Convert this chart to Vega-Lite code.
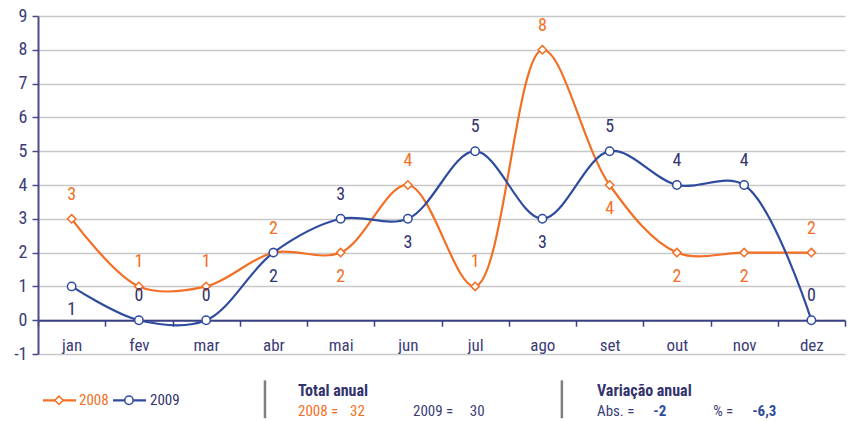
{
  "$schema": "https://vega.github.io/schema/vega-lite/v6.json",
  "autosize": {"type": "none"},
  "width": 807,
  "height": 338,
  "padding": {"left": 38, "top": 16, "right": 5, "bottom": 67},
  "background": "white",
  "config": {
    "font": "Liberation Sans Narrow, Arial Narrow, Roboto Condensed, sans-serif",
    "view": {"stroke": null}
  },
  "datasets": {
    "series": [
      {"month": "jan", "series": "2008", "value": 3},
      {"month": "fev", "series": "2008", "value": 1},
      {"month": "mar", "series": "2008", "value": 1},
      {"month": "abr", "series": "2008", "value": 2},
      {"month": "mai", "series": "2008", "value": 2},
      {"month": "jun", "series": "2008", "value": 4},
      {"month": "jul", "series": "2008", "value": 1},
      {"month": "ago", "series": "2008", "value": 8},
      {"month": "set", "series": "2008", "value": 4},
      {"month": "out", "series": "2008", "value": 2},
      {"month": "nov", "series": "2008", "value": 2},
      {"month": "dez", "series": "2008", "value": 2},
      {"month": "jan", "series": "2009", "value": 1},
      {"month": "fev", "series": "2009", "value": 0},
      {"month": "mar", "series": "2009", "value": 0},
      {"month": "abr", "series": "2009", "value": 2},
      {"month": "mai", "series": "2009", "value": 3},
      {"month": "jun", "series": "2009", "value": 3},
      {"month": "jul", "series": "2009", "value": 5},
      {"month": "ago", "series": "2009", "value": 3},
      {"month": "set", "series": "2009", "value": 5},
      {"month": "out", "series": "2009", "value": 4},
      {"month": "nov", "series": "2009", "value": 4},
      {"month": "dez", "series": "2009", "value": 0}
    ],
    "legend_items": [
      {"series": "2008", "start": 0.074, "mid": 0.312, "end": 0.565, "labelcol": 0.61, "row": -2.37},
      {"series": "2009", "start": 1.115, "mid": 1.353, "end": 1.606, "labelcol": 1.665, "row": -2.37}
    ],
    "footer_title": [
      {"text": "Total anual", "col": 3.866, "row": -2.1},
      {"text": "Variação anual", "col": 8.312, "row": -2.1}
    ],
    "footer_orange": [
      {"text": "2008  =", "col": 3.866, "row": -2.7},
      {"text": "32", "col": 4.64, "row": -2.7}
    ],
    "footer_dark": [
      {"text": "2009  =", "col": 5.576, "row": -2.7},
      {"text": "30", "col": 6.42, "row": -2.7},
      {"text": "Abs.  =", "col": 8.312, "row": -2.7},
      {"text": "%  =", "col": 10.04, "row": -2.7}
    ],
    "footer_value": [
      {"text": "-2", "col": 9.15, "row": -2.7},
      {"text": "-6,3", "col": 10.62, "row": -2.7}
    ],
    "separators": [
      {"col": 3.375, "top": -1.78, "bottom": -2.9},
      {"col": 7.79, "top": -1.78, "bottom": -2.9}
    ]
  },
  "resolve": {"scale": {"x": "independent"}},
  "layer": [
    {
      "data": {"name": "series"},
      "layer": [
        {
          "mark": {"type": "line", "interpolate": "catmull-rom", "strokeWidth": 2.2},
          "encoding": {
            "x": {
              "field": "month", "type": "ordinal",
              "sort": ["jan","fev","mar","abr","mai","jun","jul","ago","set","out","nov","dez"],
              "scale": {"paddingInner": 0, "paddingOuter": 0},
              "axis": {
                "title": null, "labelAngle": 0, "offset": -33.8,
                "tickBand": "extent", "tickSize": 6, "tickWidth": 1.5,
                "tickColor": "#3b3f86", "domainColor": "#3b3f86", "domainWidth": 2,
                "labelColor": "#3c3c78", "labelFontSize": 17, "labelPadding": 11
              }
            },
            "y": {
              "field": "value", "type": "quantitative",
              "scale": {"domain": [-1, 9], "nice": false, "zero": false},
              "axis": {
                "title": null, "values": [-1,0,1,2,3,4,5,6,7,8,9], "tickCount": 20,
                "labelOverlap": false, "labelExpr": "'' + datum.value",
                "grid": true, "gridColor": "#c8c8c8", "gridWidth": 1.5,
                "domainColor": "#4a4a8a", "domainWidth": 2,
                "tickColor": "#4a4a8a", "tickSize": 6, "tickWidth": 1.5,
                "labelColor": "#3c3c78", "labelFontSize": 18, "labelPadding": 5
              }
            },
            "color": {
              "field": "series", "type": "nominal",
              "scale": {"domain": ["2008", "2009"], "range": ["#f26f25", "#2f4b9e"]},
              "legend": null
            }
          }
        },
        {
          "mark": {"type": "point", "filled": true, "fill": "white", "strokeWidth": 1.5, "size": 70, "opacity": 1},
          "encoding": {
            "x": {"field": "month", "type": "ordinal", "sort": ["jan","fev","mar","abr","mai","jun","jul","ago","set","out","nov","dez"]},
            "y": {"field": "value", "type": "quantitative"},
            "shape": {"field": "series", "type": "nominal", "scale": {"domain": ["2008", "2009"], "range": ["diamond", "circle"]}, "legend": null},
            "stroke": {"field": "series", "type": "nominal", "scale": {"domain": ["2008", "2009"], "range": ["#f26f25", "#2f4b9e"]}, "legend": null}
          }
        },
        {
          "transform": [{"filter": "(datum.series == '2008' && indexof(['mai','set','out','nov'], datum.month) < 0) || (datum.series == '2009' && indexof(['jan','abr','jun','ago'], datum.month) < 0)"}],
          "mark": {"type": "text", "dy": -24, "fontSize": 18, "baseline": "middle"},
          "encoding": {
            "x": {"field": "month", "type": "ordinal", "sort": ["jan","fev","mar","abr","mai","jun","jul","ago","set","out","nov","dez"]},
            "y": {"field": "value", "type": "quantitative"},
            "text": {"field": "value", "type": "quantitative"},
            "fill": {"field": "series", "type": "nominal", "scale": {"domain": ["2008", "2009"], "range": ["#f26f25", "#333370"]}, "legend": null}
          }
        },
        {
          "transform": [{"filter": "(datum.series == '2008' && indexof(['mai','set','out','nov'], datum.month) >= 0) || (datum.series == '2009' && indexof(['jan','abr','jun','ago'], datum.month) >= 0)"}],
          "mark": {"type": "text", "dy": 24, "fontSize": 18, "baseline": "middle"},
          "encoding": {
            "x": {"field": "month", "type": "ordinal", "sort": ["jan","fev","mar","abr","mai","jun","jul","ago","set","out","nov","dez"]},
            "y": {"field": "value", "type": "quantitative"},
            "text": {"field": "value", "type": "quantitative"},
            "fill": {"field": "series", "type": "nominal", "scale": {"domain": ["2008", "2009"], "range": ["#f26f25", "#333370"]}, "legend": null}
          }
        }
      ]
    },
    {
      "layer": [
        {
          "data": {"name": "legend_items"},
          "mark": {"type": "rule", "strokeWidth": 2.2},
          "encoding": {
            "x": {"field": "start", "type": "quantitative", "scale": {"domain": [0, 12]}, "axis": null},
            "x2": {"field": "end"},
            "y": {"field": "row", "type": "quantitative"},
            "stroke": {"field": "series", "type": "nominal", "legend": null}
          }
        },
        {
          "data": {"name": "legend_items"},
          "mark": {"type": "point", "filled": true, "fill": "white", "strokeWidth": 1.5, "size": 70, "opacity": 1},
          "encoding": {
            "x": {"field": "mid", "type": "quantitative", "scale": {"domain": [0, 12]}, "axis": null},
            "y": {"field": "row", "type": "quantitative"},
            "shape": {"field": "series", "type": "nominal", "legend": null},
            "stroke": {"field": "series", "type": "nominal", "legend": null}
          }
        },
        {
          "data": {"name": "legend_items"},
          "mark": {"type": "text", "align": "left", "baseline": "middle", "fontSize": 15},
          "encoding": {
            "x": {"field": "labelcol", "type": "quantitative", "scale": {"domain": [0, 12]}, "axis": null},
            "y": {"field": "row", "type": "quantitative"},
            "text": {"field": "series"},
            "fill": {"field": "series", "type": "nominal", "legend": null}
          }
        },
        {
          "data": {"name": "separators"},
          "mark": {"type": "rule", "color": "#7f7f7f", "strokeWidth": 2.5},
          "encoding": {
            "x": {"field": "col", "type": "quantitative", "scale": {"domain": [0, 12]}, "axis": null},
            "y": {"field": "top", "type": "quantitative"},
            "y2": {"field": "bottom"}
          }
        },
        {
          "data": {"name": "footer_title"},
          "mark": {"type": "text", "align": "left", "baseline": "middle", "fontSize": 16, "fontWeight": "bold", "color": "#33336e"},
          "encoding": {
            "x": {"field": "col", "type": "quantitative", "scale": {"domain": [0, 12]}, "axis": null},
            "y": {"field": "row", "type": "quantitative"},
            "text": {"field": "text"}
          }
        },
        {
          "data": {"name": "footer_orange"},
          "mark": {"type": "text", "align": "left", "baseline": "middle", "fontSize": 15, "color": "#f26f25"},
          "encoding": {
            "x": {"field": "col", "type": "quantitative", "scale": {"domain": [0, 12]}, "axis": null},
            "y": {"field": "row", "type": "quantitative"},
            "text": {"field": "text"}
          }
        },
        {
          "data": {"name": "footer_dark"},
          "mark": {"type": "text", "align": "left", "baseline": "middle", "fontSize": 15, "color": "#3c3c78"},
          "encoding": {
            "x": {"field": "col", "type": "quantitative", "scale": {"domain": [0, 12]}, "axis": null},
            "y": {"field": "row", "type": "quantitative"},
            "text": {"field": "text"}
          }
        },
        {
          "data": {"name": "footer_value"},
          "mark": {"type": "text", "align": "left", "baseline": "middle", "fontSize": 15, "fontWeight": "bold", "color": "#2f4b9e"},
          "encoding": {
            "x": {"field": "col", "type": "quantitative", "scale": {"domain": [0, 12]}, "axis": null},
            "y": {"field": "row", "type": "quantitative"},
            "text": {"field": "text"}
          }
        }
      ]
    }
  ]
}
